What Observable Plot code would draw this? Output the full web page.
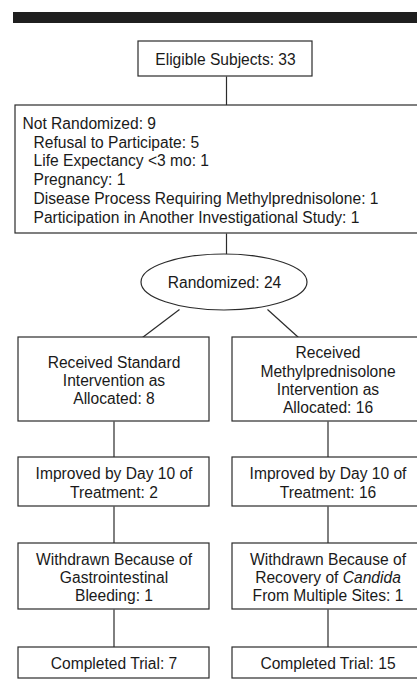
<!DOCTYPE html>
<html>
<head>
<meta charset="utf-8">
<script src="https://cdn.jsdelivr.net/npm/d3@7"></script>
<script src="https://cdn.jsdelivr.net/npm/@observablehq/plot@0.6"></script>
<style>
  html, body { margin: 0; padding: 0; background: #fff; overflow: hidden; width: 417px; height: 693px; }
  #chart svg { display: block; max-width: none !important; width: 450px !important; height: 693px !important; }
</style>
</head>
<body>
<div id="chart"></div>
<script>
// ---------- data ----------
const screeningSteps = ["Eligible Subjects", "Not Randomized", "Randomized"];
const screeningCounts = [33, 9, 24];
const exclusionReasons = [
  "Refusal to Participate",
  "Life Expectancy <3 mo",
  "Pregnancy",
  "Disease Process Requiring Methylprednisolone",
  "Participation in Another Investigational Study"
];
const exclusionCounts = [5, 1, 1, 1, 1];
const standardSteps = [
  "Received Standard\nIntervention as\nAllocated",
  "Improved by Day 10 of\nTreatment",
  "Withdrawn Because of\nGastrointestinal\nBleeding",
  "Completed Trial"
];
const standardCounts = [8, 2, 1, 7];
const methylSteps = [
  "Received\nMethylprednisolone\nIntervention as\nAllocated",
  "Improved by Day 10 of\nTreatment",
  "Withdrawn Because of\nRecovery of Candida\nFrom Multiple Sites",
  "Completed Trial"
];
const methylCounts = [16, 16, 1, 15];

// ---------- layout (pixel space) ----------
const W = 450, H = 693;
const FONT = "Liberation Sans, Arial, Helvetica, sans-serif";
const FS = 15.6;
const LH = 18.4 / FS;
const INK = "#2b2b2b";

const armRows = [[337, 421], [457, 506], [543, 609], [647, 678]];
const armCols = [[18, 209], [232, 423]];

const boxes = [];
const labels = [];
// Eligible
boxes.push({x1: 138, x2: 312, y1: 41, y2: 76});
labels.push({x: 225, y: 59, text: `${screeningSteps[0]}: ${screeningCounts[0]}`});
// Not randomized
boxes.push({x1: 15, x2: 436, y1: 105, y2: 233});
// Arms
[[standardSteps, standardCounts], [methylSteps, methylCounts]].forEach(([steps, counts], a) => {
  const [cx1, cx2] = armCols[a];
  steps.forEach((s, i) => {
    const [ry1, ry2] = armRows[i];
    boxes.push({x1: cx1, x2: cx2, y1: ry1, y2: ry2});
    labels.push({x: (cx1 + cx2) / 2, y: (ry1 + ry2) / 2 + 0.5, text: `${s}: ${counts[i]}`});
  });
});
labels.push({x: 224, y: 282, text: `${screeningSteps[2]}: ${screeningCounts[2]}`});

const links = [
  {x1: 226, y1: 76, x2: 226, y2: 105},
  {x1: 226, y1: 233, x2: 226, y2: 254},
  {x1: 179, y1: 309, x2: 142, y2: 337},
  {x1: 267, y1: 309, x2: 298, y2: 337}
];
armCols.forEach(([c1, c2]) => {
  const cx = (c1 + c2) / 2;
  for (let i = 0; i < armRows.length - 1; i++) {
    links.push({x1: cx, y1: armRows[i][1], x2: cx, y2: armRows[i + 1][0]});
  }
});

const ellipseNode = {cx: 224, cy: 282, rx: 83, ry: 28};
const bar = [{x1: 13, x2: 440, y1: 12, y2: 23}];

const notRandHeader = [{x: 22, y: 123, text: `${screeningSteps[1]}: ${screeningCounts[1]}`}];
const notRandReasons = [{x: 33, y: 133.5, text: exclusionReasons.map((r, i) => `${r}: ${exclusionCounts[i]}`).join("\n")}];

const chart = Plot.plot({
  width: W,
  height: H,
  margin: 0,
  x: {domain: [0, W], range: [0, W], axis: null},
  y: {domain: [0, H], range: [0, H], axis: null},
  style: {fontFamily: FONT, background: "#fff", maxWidth: "none"},
  marks: [
    Plot.rect(bar, {x1: "x1", x2: "x2", y1: "y1", y2: "y2", fill: "#1f1f1f"}),
    Plot.link(links, {x1: "x1", y1: "y1", x2: "x2", y2: "y2", stroke: INK, strokeWidth: 1.2}),
    Plot.rect(boxes, {x1: "x1", x2: "x2", y1: "y1", y2: "y2", fill: "white", stroke: INK, strokeWidth: 1.2}),
    (index, scales) => {
      const sx = scales && scales.x ? scales.x : (v) => v;
      const sy = scales && scales.y ? scales.y : (v) => v;
      const g = d3.create("svg:g");
      g.append("ellipse")
        .attr("cx", sx(ellipseNode.cx)).attr("cy", sy(ellipseNode.cy))
        .attr("rx", sx(ellipseNode.cx + ellipseNode.rx) - sx(ellipseNode.cx))
        .attr("ry", sy(ellipseNode.cy + ellipseNode.ry) - sy(ellipseNode.cy))
        .attr("fill", "white").attr("stroke", INK).attr("stroke-width", 1.2);
      return g.node();
    },
    Plot.text(labels, {x: "x", y: "y", text: "text", textAnchor: "middle", lineAnchor: "middle",
      lineHeight: LH, fontSize: FS, fill: "#1a1a1a"}),
    Plot.text(notRandHeader, {x: "x", y: "y", text: "text", textAnchor: "start", lineAnchor: "middle",
      fontSize: FS, fill: "#1a1a1a"}),
    Plot.text(notRandReasons, {x: "x", y: "y", text: "text", textAnchor: "start", lineAnchor: "top",
      lineHeight: 19 / FS, fontSize: FS, fill: "#1a1a1a"})
  ]
});

document.getElementById("chart").appendChild(chart);

// italicise the genus name
d3.select(chart).selectAll("tspan").each(function() {
  const t = this.textContent;
  if (t.includes("Candida") && this.children.length === 0) {
    const parts = t.split("Candida");
    const sel = d3.select(this);
    sel.text(null);
    sel.append("tspan").text(parts[0]);
    sel.append("tspan").attr("font-style", "italic").text("Candida");
    if (parts[1]) sel.append("tspan").text(parts[1]);
  }
});
</script>
</body>
</html>
